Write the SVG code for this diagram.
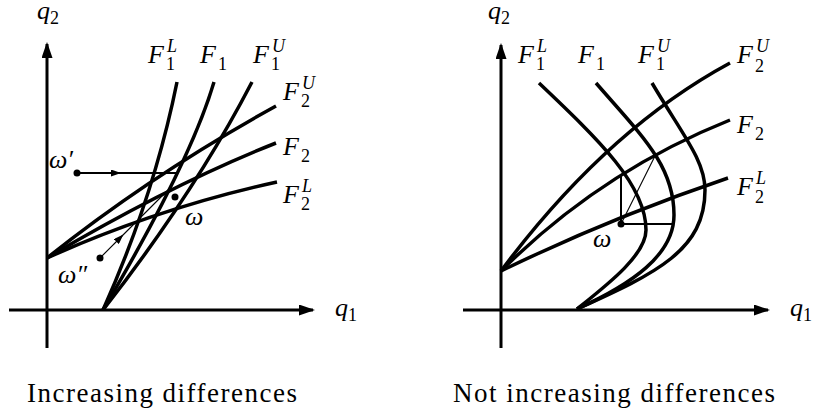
<svg xmlns="http://www.w3.org/2000/svg" width="815" height="418" viewBox="0 0 815 418">
<style>
  .axis{fill:none;stroke:#000;stroke-width:3}
  .curve{fill:none;stroke:#000;stroke-width:3.5}
  .mid{fill:none;stroke:#000;stroke-width:2}
  .thin{fill:none;stroke:#000;stroke-width:1.1}
  .m{font-family:'Liberation Serif',serif;font-size:26px;font-style:italic;fill:#000}
  .s{font-family:'Liberation Serif',serif;font-size:18px;font-style:normal;fill:#000}
  .si{font-family:'Liberation Serif',serif;font-size:18px;font-style:italic;fill:#000}
  .cap{font-family:'Liberation Serif',serif;font-size:27px;fill:#000}
</style>
<defs>
  <marker id="ax" markerUnits="userSpaceOnUse" viewBox="0 0 16 11" refX="14" refY="5.5" markerWidth="16" markerHeight="11" orient="auto">
    <path d="M0,0 L16,5.5 L0,11 z" fill="#000"/>
  </marker>
  <marker id="sm" markerUnits="userSpaceOnUse" viewBox="0 0 10 7" refX="8" refY="3.5" markerWidth="10" markerHeight="7" orient="auto">
    <path d="M0,0 L10,3.5 L0,7 z" fill="#000"/>
  </marker>
</defs>

<!-- Left panel -->
<g id="left-axes">
  <line class="axis" x1="47" y1="348" x2="47" y2="44" marker-end="url(#ax)"/>
  <line class="axis" x1="9" y1="310" x2="313" y2="310" marker-end="url(#ax)"/>
  <text class="m" x="37" y="19">q<tspan class="s" dy="5">2</tspan></text>
  <text class="m" x="335" y="316">q<tspan class="s" dy="5">1</tspan></text>
</g>
<g id="left-curves">
  <path id="L-F1L" class="curve" d="M103,310 Q154,196 177,82"/>
  <path id="L-F1" class="curve" d="M103,310 Q190,163 214,82"/>
  <path id="L-F1U" class="curve" d="M103,310 Q195,192 252,82"/>
  <path id="L-F2U" class="curve" d="M47,258 Q151,175 276,106"/>
  <path id="L-F2" class="curve" d="M47,258 Q170,185 276,143"/>
  <path id="L-F2L" class="curve" d="M47,258 Q158,208 277,182"/>
</g>
<g id="left-labels">
  <text class="m" x="148" y="63">F</text><text class="si" x="167" y="52">L</text><text class="s" x="166" y="70">1</text>
  <text class="m" x="200" y="63">F</text><text class="s" x="218" y="70">1</text>
  <text class="m" x="253" y="63">F</text><text class="si" x="272" y="52">U</text><text class="s" x="271" y="70">1</text>
  <text class="m" x="283" y="100">F</text><text class="si" x="302" y="89">U</text><text class="s" x="301" y="107">2</text>
  <text class="m" x="283" y="155">F</text><text class="s" x="301" y="162">2</text>
  <text class="m" x="283" y="203">F</text><text class="si" x="302" y="192">L</text><text class="s" x="301" y="210">2</text>
</g>
<g id="left-omega-prime">
  <line class="mid" x1="77" y1="173" x2="119" y2="173" marker-end="url(#sm)"/>
  <line class="mid" x1="117" y1="173" x2="177" y2="173"/>
  <circle cx="77" cy="173" r="3.5"/>
  <text class="m" x="49" y="168">ω′</text>
</g>
<g id="left-omega">
  <circle cx="175" cy="197" r="3.5"/>
  <text class="m" x="185" y="225">ω</text>
</g>
<g id="left-omega-dprime">
  <line class="thin" x1="100" y1="258" x2="122" y2="236" marker-end="url(#sm)"/>
  <line class="thin" x1="120" y1="238" x2="169" y2="189"/>
  <circle cx="100" cy="258" r="3.5"/>
  <text class="m" x="58" y="283">ω″</text>
</g>

<!-- Right panel -->
<g id="right-axes">
  <line class="axis" x1="501" y1="348" x2="501" y2="45" marker-end="url(#ax)"/>
  <line class="axis" x1="463" y1="310" x2="768" y2="310" marker-end="url(#ax)"/>
  <text class="m" x="488" y="19">q<tspan class="s" dy="5">2</tspan></text>
  <text class="m" x="790" y="316">q<tspan class="s" dy="5">1</tspan></text>
</g>
<g id="right-curves">
  <path id="R-F1L" class="curve" d="M539,83 C599,140 646,185 646,230 C646,255 607,285 577,309"/>
  <path id="R-F1" class="curve" d="M596,83 C641,135 674,165 674,215 C674,255 632,284 577,309"/>
  <path id="R-F1U" class="curve" d="M652,83 C682,134 705,160 705,190 C705,250 657,273 577,309"/>
  <path id="R-F2U" class="curve" d="M501,271 Q606,130 730,63"/>
  <path id="R-F2" class="curve" d="M501,271 Q600,172 730,120"/>
  <path id="R-F2L" class="curve" d="M501,271 Q610,218 728,178"/>
</g>
<g id="right-labels">
  <text class="m" x="518" y="63">F</text><text class="si" x="537" y="52">L</text><text class="s" x="536" y="70">1</text>
  <text class="m" x="578" y="63">F</text><text class="s" x="596" y="70">1</text>
  <text class="m" x="638" y="63">F</text><text class="si" x="657" y="52">U</text><text class="s" x="656" y="70">1</text>
  <text class="m" x="737" y="63">F</text><text class="si" x="756" y="52">U</text><text class="s" x="755" y="72">2</text>
  <text class="m" x="737" y="133">F</text><text class="s" x="755" y="140">2</text>
  <text class="m" x="737" y="195">F</text><text class="si" x="756" y="184">L</text><text class="s" x="755" y="203">2</text>
</g>
<g id="right-omega">
  <line class="mid" x1="621" y1="224" x2="621" y2="176"/>
  <line class="mid" x1="621" y1="224" x2="672" y2="224"/>
  <line class="thin" x1="621" y1="224" x2="655" y2="156"/>
  <circle cx="621" cy="224" r="3.5"/>
  <text class="m" x="593" y="247">ω</text>
</g>

<g id="captions">
  <text class="cap" x="27" y="402" textLength="270" lengthAdjust="spacing">Increasing differences</text>
  <text class="cap" x="453" y="402" textLength="322" lengthAdjust="spacing">Not increasing differences</text>
</g>
</svg>
